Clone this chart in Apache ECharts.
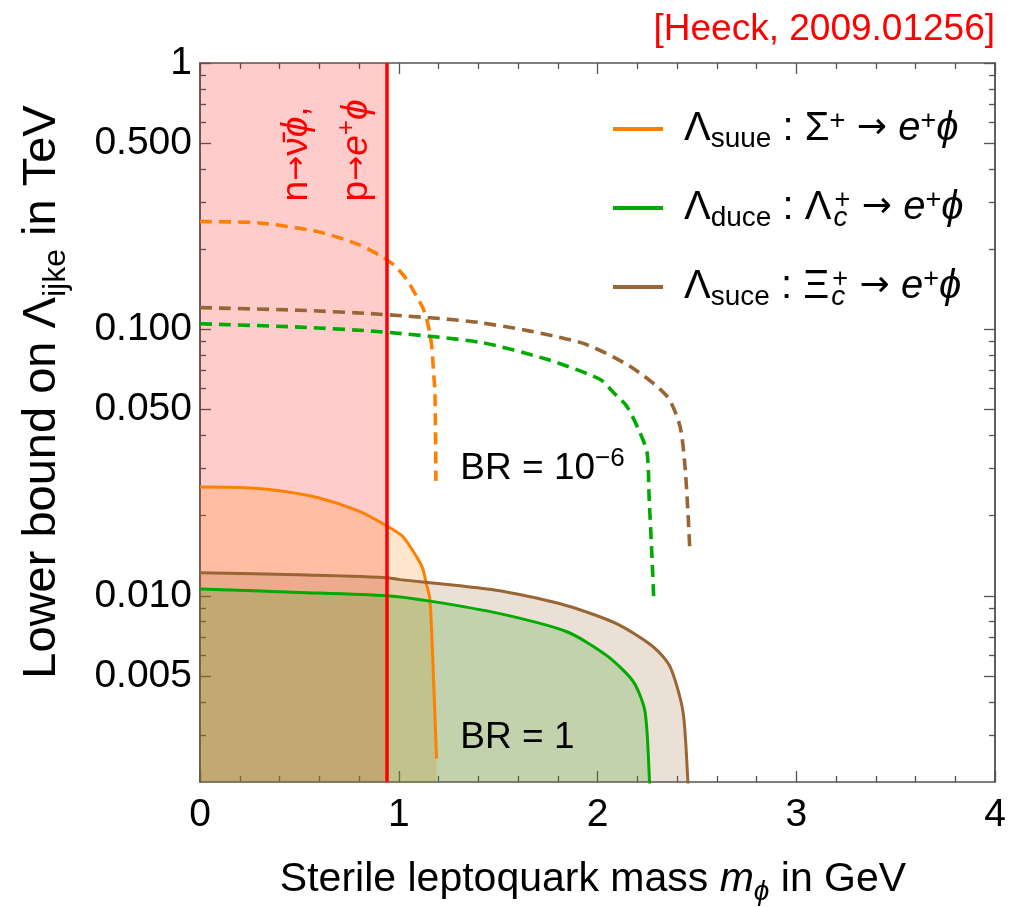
<!DOCTYPE html>
<html>
<head>
<meta charset="utf-8">
<script src="https://cdn.jsdelivr.net/npm/echarts@6.0.0/dist/echarts.min.js"></script>
<style>
html,body{margin:0;padding:0;background:#fff;}
#chart{width:1021px;height:907px;}
</style>
</head>
<body>
<div id="chart"></div>
<script>
// ---------------- data ----------------
// Sigma+ -> e+ phi  (Lambda_suue)
const suueMassBR1 = [0, 0.2, 0.4, 0.6, 0.8, 0.94, 1.02, 1.09, 1.12, 1.14, 1.157, 1.175, 1.19];
const suueBR1     = [0.0256, 0.0255, 0.0248, 0.0233, 0.0208, 0.0183, 0.0167, 0.0140, 0.0127, 0.0110, 0.0097, 0.0049, 0.00245];
const suueMassBR6 = [0, 0.3, 0.6, 0.8, 0.914, 0.981, 1.04, 1.09, 1.124, 1.149, 1.166, 1.174, 1.182, 1.187];
const suueBR6     = [0.254, 0.251, 0.232, 0.208, 0.188, 0.173, 0.154, 0.133, 0.119, 0.103, 0.0866, 0.0708, 0.058, 0.027];
// Lambda_c+ -> e+ phi  (Lambda_duce)
const duceMassBR1 = [0, 0.5, 0.94, 1.157, 1.509, 1.846, 2.047, 2.18, 2.239, 2.262, 2.27];
const duceBR1     = [0.0106, 0.0103, 0.0100, 0.00955, 0.00857, 0.00733, 0.00596, 0.00476, 0.00368, 0.0020, 0.0015];
const duceMassBR6 = [0, 0.5, 0.905, 1.409, 1.745, 2.012, 2.08, 2.147, 2.206, 2.249, 2.26, 2.273, 2.284];
const duceBR6     = [0.105, 0.102, 0.098, 0.0894, 0.0772, 0.065, 0.058, 0.0515, 0.0422, 0.0346, 0.0231, 0.0146, 0.0094];
// Xi_c+ -> e+ phi  (Lambda_suce)
const suceMassBR1 = [0, 0.5, 0.94, 1.006, 1.308, 1.509, 1.846, 2.098, 2.28, 2.365, 2.43, 2.455, 2.46];
const suceBR1     = [0.0122, 0.0120, 0.0117, 0.0115, 0.0109, 0.01044, 0.00918, 0.00785, 0.00644, 0.00542, 0.00368, 0.0020, 0.0017];
const suceMassBR6 = [0, 0.5, 0.905, 1.409, 1.912, 2.163, 2.35, 2.415, 2.44, 2.455, 2.465];
const suceBR6     = [0.1207, 0.118, 0.114, 0.106, 0.0894, 0.0727, 0.0561, 0.0433, 0.0307, 0.0206, 0.0146];
// nucleon-decay excluded region (m_phi < m_n)
const nucleonMass = 0.94;

// axes
const xMin = 0, xMax = 4, xInterval = 1;
const xTickLabels = [0, 1, 2, 3, 4];
const yMin = 0.002, yMax = 1;
const yLabelValues = [0.005, 0.01, 0.05, 0.1, 0.5, 1];
const yLabelTexts  = ['0.005', '0.010', '0.050', '0.100', '0.500', '1'];
const yMinorValues = [0.003, 0.004, 0.006, 0.007, 0.008, 0.009, 0.02, 0.03, 0.04, 0.06, 0.07, 0.08, 0.09, 0.2, 0.3, 0.4, 0.6, 0.7, 0.8, 0.9];

// ---------------- styling ----------------
const FONT = "'Liberation Sans', Arial, Helvetica, sans-serif";
const ARROWFONT = "'DejaVu Sans', sans-serif";
const ORANGE = '#ff8000', GREEN = '#00aa00', BROWN = '#996633', RED = '#ff0000';
const FRAME = '#555555';
const zip = (xs, ys) => xs.map((x, i) => [x, ys[i]]);

const chart = echarts.init(document.getElementById('chart'), null, {renderer: 'canvas'});

function yAxisDef(pos, values, len, withLabels) {
  return {
    type: 'log', logBase: 10, min: yMin, max: yMax, position: pos,
    axisLine: {show: true, lineStyle: {color: FRAME, width: 1.5}},
    splitLine: {show: false},
    axisTick: {show: true, inside: true, length: len, customValues: values, lineStyle: {color: FRAME, width: 1.3}},
    axisLabel: withLabels ? {
      show: true, customValues: yLabelValues, margin: 8,
      fontFamily: FONT, fontSize: 39, color: '#000',
      formatter: v => { const i = yLabelValues.findIndex(a => Math.abs(a - v) / a < 1e-6); return i >= 0 ? yLabelTexts[i] : ''; }
    } : {show: false}
  };
}
function xAxisDef(pos, withLabels) {
  return {
    type: 'value', min: xMin, max: xMax, interval: xInterval, position: pos,
    axisLine: {show: true, onZero: false, lineStyle: {color: FRAME, width: 1.5}},
    splitLine: {show: false},
    axisTick: {show: true, inside: true, length: 11, lineStyle: {color: FRAME, width: 1.3}},
    minorTick: {show: true, splitNumber: 5, length: 6, lineStyle: {color: FRAME, width: 1.3}},
    axisLabel: withLabels ? {show: true, margin: 14, fontFamily: FONT, fontSize: 39, color: '#000',
      formatter: v => xTickLabels.includes(v) ? String(v) : ''} : {show: false}
  };
}

function lineSeries(name, xs, ys, color, dashed, withArea) {
  const s = {
    name, type: 'line', data: zip(xs, ys), showSymbol: false, symbol: 'none',
    smooth: 0.25, clip: true, z: 2,
    lineStyle: {color, width: dashed ? 3.6 : 3, type: dashed ? [12, 7] : 'solid'},
    itemStyle: {color}
  };
  if (withArea) s.areaStyle = {color, opacity: 0.2, origin: 'start'};
  return s;
}

const legendText = {
  suue: '{sp| }{t|Λ}{sub|suue}{t| : Σ}{sup|+}{ar| → }{it|e}{sup|+}{it|ϕ}',
  duce: '{sp| }{t|Λ}{sub|duce}{t| : Λ}{subc|c}{sup|+}{ar| → }{it|e}{sup|+}{it|ϕ}',
  suce: '{sp| }{t|Λ}{sub|suce}{t| : Ξ}{subc|c}{sup|+}{ar| → }{it|e}{sup|+}{it|ϕ}'
};
const legendRich = {
  sp: {width: 16, fontSize: 10},
  t: {fontFamily: FONT, fontSize: 40, lineHeight: 48, color: '#000'},
  ar: {fontFamily: ARROWFONT, fontSize: 36, lineHeight: 48, color: '#000'},
  it: {fontFamily: FONT, fontSize: 40, lineHeight: 48, fontStyle: 'italic', color: '#000'},
  sub: {fontFamily: FONT, fontSize: 28, verticalAlign: 'bottom', color: '#000'},
  subc: {fontFamily: FONT, fontSize: 28, fontStyle: 'italic', verticalAlign: 'bottom', color: '#000', width: 1, padding: [0, 0, 0, 2]},
  sup: {fontFamily: FONT, fontSize: 27, verticalAlign: 'top', color: '#000', padding: [3, 0, 0, 0]}
};

const option = {
  animation: false,
  backgroundColor: '#ffffff',
  grid: {left: 200, right: 26, top: 63, bottom: 125, containLabel: false},
  xAxis: [xAxisDef('bottom', true), xAxisDef('top', false)],
  yAxis: [
    yAxisDef('left', yLabelValues, 11, true),
    yAxisDef('left', yMinorValues, 6, false),
    yAxisDef('right', yLabelValues, 11, false),
    yAxisDef('right', yMinorValues, 6, false)
  ],
  legend: {
    data: ['suue', 'duce', 'suce'],
    orient: 'vertical', left: 608, top: 103,
    itemWidth: 50, itemHeight: 4, itemGap: 34, icon: 'rect',
    textStyle: {fontFamily: FONT, fontSize: 40, color: '#000', rich: legendRich},
    formatter: n => legendText[n],
    selectedMode: false
  },
  series: [
    lineSeries('suue', suueMassBR1, suueBR1, ORANGE, false, true),
    lineSeries('duce', duceMassBR1, duceBR1, GREEN, false, true),
    lineSeries('suce', suceMassBR1, suceBR1, BROWN, false, true),
    lineSeries('suue6', suueMassBR6, suueBR6, ORANGE, true, false),
    lineSeries('duce6', duceMassBR6, duceBR6, GREEN, true, false),
    lineSeries('suce6', suceMassBR6, suceBR6, BROWN, true, false),
    {
      name: 'excluded', type: 'line', data: [], z: 3, silent: true,
      markArea: {silent: true, itemStyle: {color: 'rgba(255,0,0,0.2)'},
        data: [[{xAxis: 0}, {xAxis: nucleonMass}]]}
    },
    {
      name: 'nucleon', type: 'line', data: [], z: 4, silent: true,
      markLine: {silent: true, symbol: 'none', label: {show: false},
        lineStyle: {color: RED, width: 3.5, type: 'solid'},
        data: [{xAxis: nucleonMass}]}
    }
  ]
};
chart.setOption(option);

// ---------------- text annotations placed in data coordinates ----------------
const px = (x, y) => chart.convertToPixel({gridIndex: 0}, [x, y]);
const brHighPos = [1.31, 0.0299];
const brLowPos  = [1.31, 0.00292];
const decay1Pos = [0.488, 0.302];
const decay2Pos = [0.79, 0.302];

const p1 = px(...brHighPos), p2 = px(...brLowPos), p3 = px(...decay1Pos), p4 = px(...decay2Pos);
const richBR = {
  t: {fontFamily: FONT, fontSize: 37, lineHeight: 46, fill: '#000'},
  sup: {fontFamily: FONT, fontSize: 26, verticalAlign: 'top', fill: '#000'}
};
const richRed = {
  t: {fontFamily: FONT, fontSize: 37, lineHeight: 46, fill: RED},
  ar: {fontFamily: ARROWFONT, fontSize: 30, lineHeight: 46, fill: RED},
  it: {fontFamily: FONT, fontSize: 37, lineHeight: 46, fontStyle: 'italic', fill: RED},
  sup: {fontFamily: FONT, fontSize: 26, verticalAlign: 'top', fill: RED}
};
const richAxis = {
  t: {fontFamily: FONT, fontSize: 41, lineHeight: 52, fill: '#000'},
  it: {fontFamily: FONT, fontSize: 41, lineHeight: 52, fontStyle: 'italic', fill: '#000'},
  sub: {fontFamily: FONT, fontSize: 28, verticalAlign: 'bottom', fill: '#000'},
  subit: {fontFamily: FONT, fontSize: 28, fontStyle: 'italic', verticalAlign: 'bottom', fill: '#000'}
};
const richYAxis = {
  t: {fontFamily: FONT, fontSize: 47, lineHeight: 60, fill: '#000'},
  sub: {fontFamily: FONT, fontSize: 32, verticalAlign: 'bottom', fill: '#000'}
};

chart.setOption({
  graphic: [
    {type: 'text', x: 995, y: 30, z: 10, style: {text: '[Heeck, 2009.01256]', fontFamily: FONT, fontSize: 37, fill: RED, align: 'right', verticalAlign: 'middle'}},
    {type: 'text', x: p1[0], y: p1[1], z: 10, style: {text: '{t|BR = 10}{sup|−6}', rich: richBR, align: 'left', verticalAlign: 'middle'}},
    {type: 'text', x: p2[0], y: p2[1], z: 10, style: {text: '{t|BR = 1}', rich: richBR, align: 'left', verticalAlign: 'middle'}},
    {type: 'text', x: p3[0], y: p3[1], z: 10, rotation: Math.PI / 2, style: {text: '{t|n}{ar|→}{t|ν̄}{it|ϕ}{t|,}', rich: richRed, align: 'left', verticalAlign: 'middle'}},
    {type: 'text', x: p4[0], y: p4[1], z: 10, rotation: Math.PI / 2, style: {text: '{t|p}{ar|→}{it|e}{sup|+}{it|ϕ}', rich: richRed, align: 'left', verticalAlign: 'middle'}},
    {type: 'text', x: 593, y: 880, z: 10, style: {text: '{t|Sterile leptoquark mass }{it|m}{subit|ϕ}{t| in GeV}', rich: richAxis, align: 'center', verticalAlign: 'middle'}},
    {type: 'text', x: 42, y: 392, z: 10, rotation: Math.PI / 2, style: {text: '{t|Lower bound on Λ}{sub|ijke}{t| in TeV}', rich: richYAxis, align: 'center', verticalAlign: 'middle'}}
  ]
});
</script>
</body>
</html>
